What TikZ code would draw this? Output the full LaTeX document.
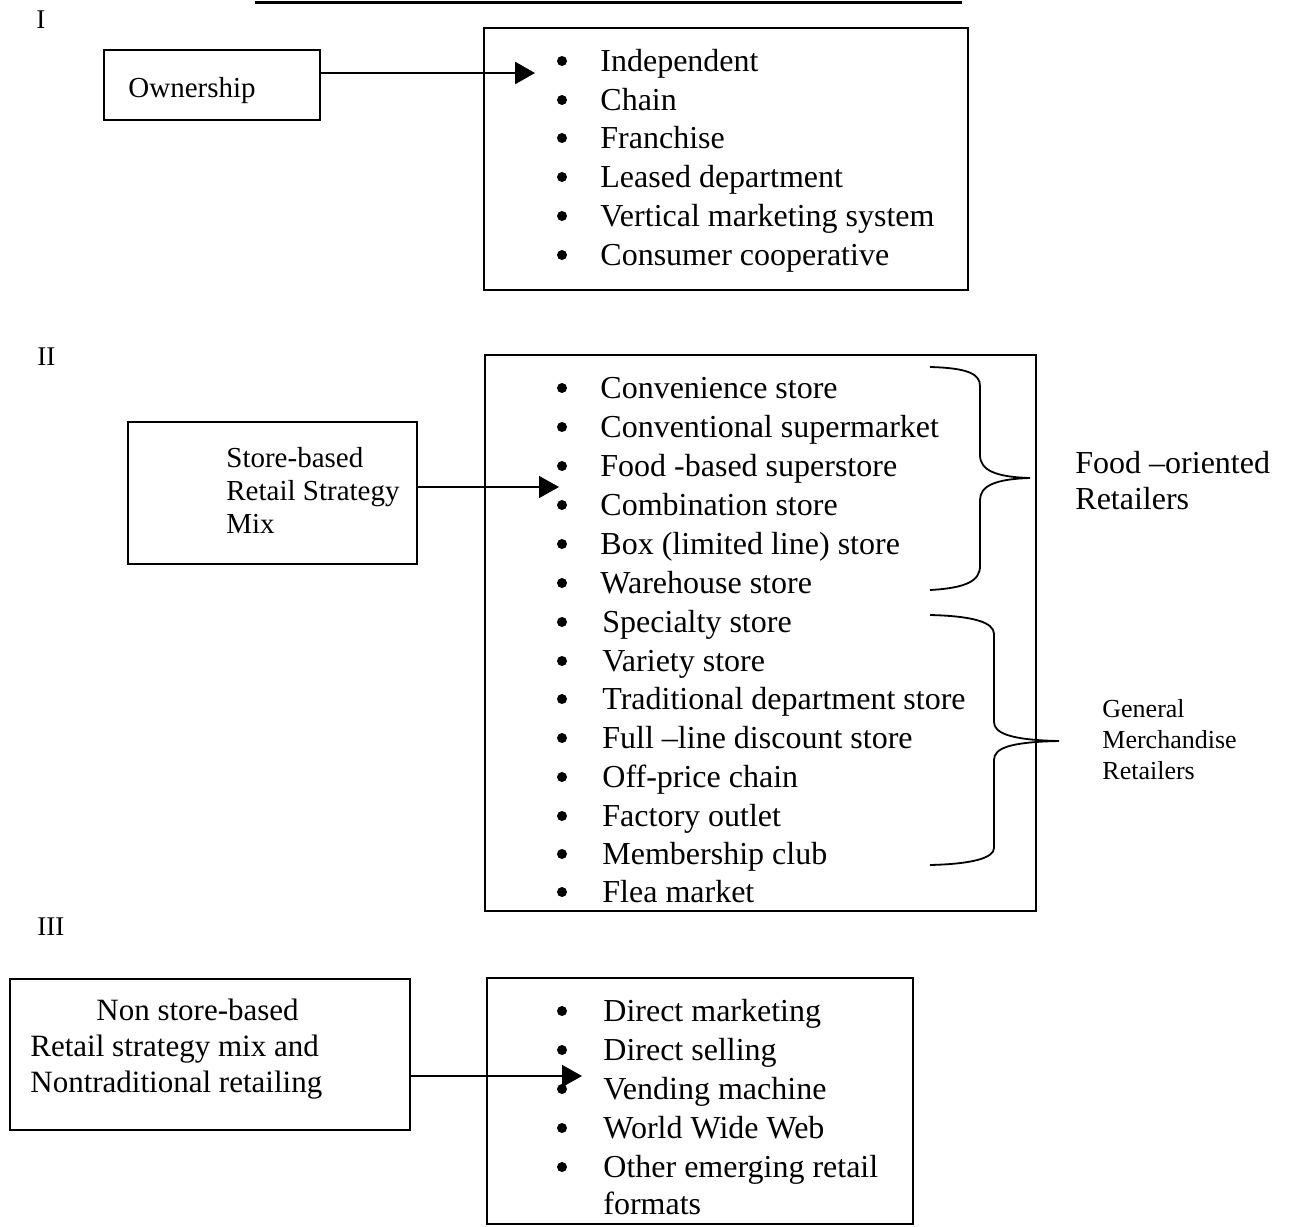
\documentclass[tikz,border=0pt]{standalone}
\usepackage{fontspec}
\setmainfont{Liberation Serif}
\usetikzlibrary{arrows.meta}
\begin{document}
\begin{tikzpicture}[x=0.5pt,y=-0.5pt,
  box/.style={draw,line width=1pt,inner sep=0pt,outer sep=0pt,anchor=north west},
  itm/.style={anchor=base west,inner sep=0pt,font=\fontsize{16}{19}\selectfont},
  lbl/.style={anchor=base west,inner sep=0pt,font=\fontsize{14.5}{17}\selectfont},
  roman/.style={anchor=base west,inner sep=0pt,font=\fontsize{13.5}{16}\selectfont},
  arr/.style={-{Triangle[length=10pt,width=11pt]}},
  brace/.style={line width=0.9pt}]
\useasboundingbox (0,0) rectangle (1289,1226);
% top partial rule
\draw[line width=1.5pt] (255,2) -- (962,2);
% roman numerals
\node[roman] (r1) at (36,28) {I};
\node[roman] (r2) at (37,365) {II};
\node[roman] (r3) at (37,935) {III};
% ---------- Section I
\node[box,minimum width=108pt,minimum height=35pt] (own) at (104,50) {};
\node[lbl] (ownt) at (128,97) {Ownership};
\node[box,minimum width=242pt,minimum height=131pt] (l1) at (484,28) {};
\foreach \t/\b [count=\i] in {Independent/71,Chain/110,Franchise/148,Leased department/187,Vertical marketing system/226,Consumer cooperative/265}{
  \fill (562,\b-10) circle (5);
  \node[itm] (a\i) at (600,\b) {\t};
}
\coordinate (t1) at (535,73);
\draw[arr,line width=1.3pt] (own.east |- t1) -- (t1);
% ---------- Section II
\node[box,minimum width=144.5pt,minimum height=71pt] (sb) at (128,422) {};
\node[lbl] (sb1) at (226,467) {Store-based};
\node[lbl] (sb2) at (226,500) {Retail Strategy};
\node[lbl] (sb3) at (226,533) {Mix};
\node[box,minimum width=275.5pt,minimum height=278pt] (l2) at (485,355) {};
\foreach \t/\b [count=\i] in {Convenience store/398,Conventional supermarket/437,Food -based superstore/476,Combination store/515,Box (limited line) store/554,Warehouse store/593}{
  \fill (562,\b-10) circle (5);
  \node[itm] (b\i) at (600,\b) {\t};
}
\foreach \t/\b [count=\i] in {Specialty store/632,Variety store/671,Traditional department store/709,Full --line discount store/748,Off-price chain/787,Factory outlet/826,Membership club/864,Flea market/902}{
  \fill (562,\b-10) circle (5);
  \node[itm] (c\i) at (602,\b) {\t};
}
\coordinate (t2) at (559,487);
\draw[arr,line width=0.7pt] (sb.east |- t2) -- (t2);
% braces
\draw[brace] (930,367) .. controls (968,368) and (980,374) .. (980,386) -- (980,455)
  .. controls (980,470) and (995,477) .. (1030,478)
  .. controls (995,479) and (980,486) .. (980,500) -- (980,566)
  .. controls (980,581) and (966,588) .. (930,590);
\draw[brace] (930,615) .. controls (972,616) and (994,622) .. (994,634) -- (994,722)
  .. controls (994,733) and (1010,740) .. (1059,741)
  .. controls (1010,742) and (994,748) .. (994,760) -- (994,848)
  .. controls (994,858) and (972,864) .. (930,865);
\node[itm] (fo1) at (1075,473) {Food --oriented};
\node[itm] (fo2) at (1075,509) {Retailers};
\node[anchor=base west,inner sep=0pt,font=\fontsize{13}{15}\selectfont] (gm1) at (1102,717) {General};
\node[anchor=base west,inner sep=0pt,font=\fontsize{13}{15}\selectfont] (gm2) at (1102,748) {Merchandise};
\node[anchor=base west,inner sep=0pt,font=\fontsize{13}{15}\selectfont] (gm3) at (1102,779) {Retailers};
% ---------- Section III
\node[box,minimum width=200pt,minimum height=75.5pt] (ns) at (10,979) {};
\node[anchor=base west,inner sep=0pt,font=\fontsize{15.5}{18}\selectfont] (ns1) at (96,1020) {Non store-based};
\node[anchor=base west,inner sep=0pt,font=\fontsize{15.5}{18}\selectfont] (ns2) at (30,1056) {Retail strategy mix and};
\node[anchor=base west,inner sep=0pt,font=\fontsize{15.5}{18}\selectfont] (ns3) at (30,1092) {Nontraditional retailing};
\node[box,minimum width=213pt,minimum height=123pt] (l3) at (487,978) {};
\foreach \t/\b [count=\i] in {Direct marketing/1021,Direct selling/1060,Vending machine/1099,World Wide Web/1138,Other emerging retail/1177}{
  \fill (562,\b-10) circle (5);
  \node[itm] (d\i) at (603,\b) {\t};
}
\node[itm] (d6) at (603,1214) {formats};
\coordinate (t3) at (582,1076);
\draw[arr,line width=0.8pt] (ns.east |- t3) -- (t3);
\end{tikzpicture}
\end{document}
